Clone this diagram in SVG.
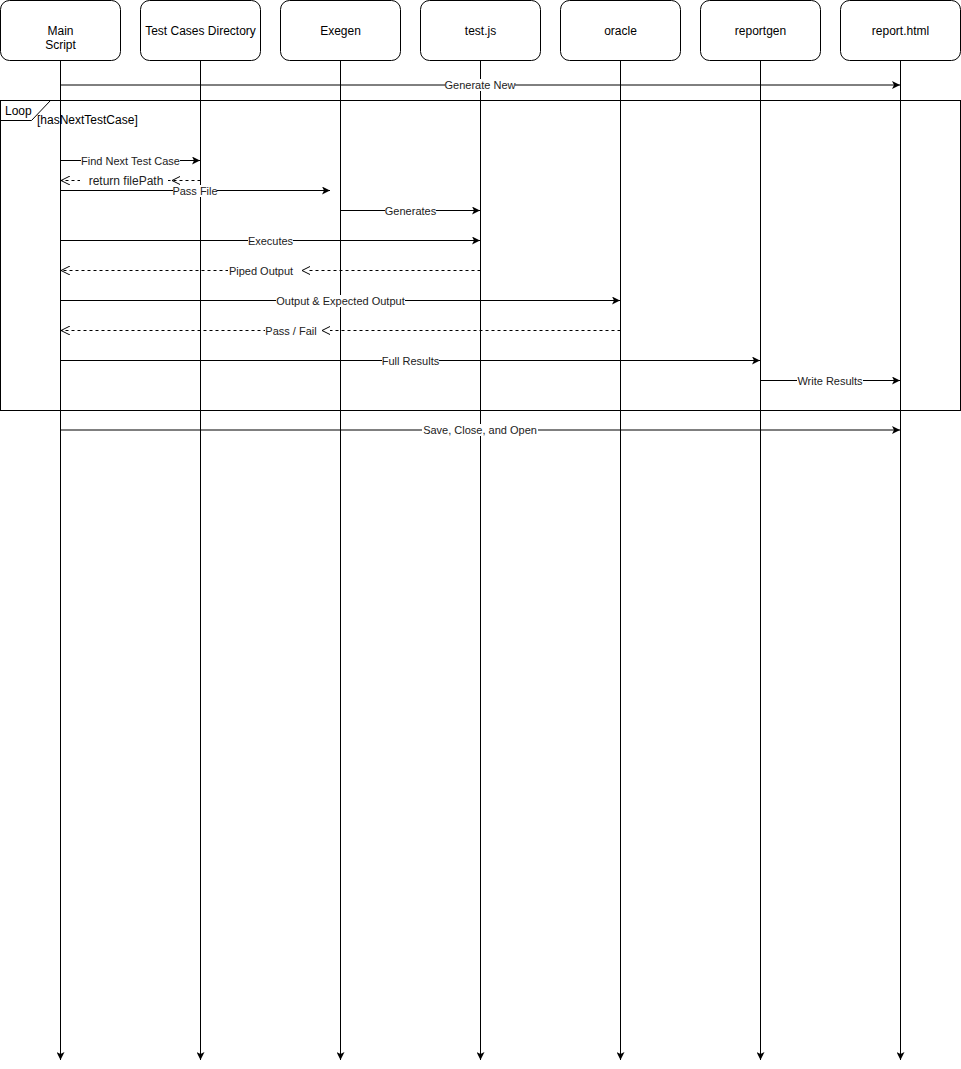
<svg xmlns="http://www.w3.org/2000/svg" width="961" height="1069" viewBox="0 0 961 1069">
<defs>
<marker id="fill" viewBox="0 0 10 10" refX="10" refY="5" markerWidth="8" markerHeight="8" markerUnits="userSpaceOnUse" orient="auto">
<path d="M0,0 L10,5 L0,10 L2.5,5 z" fill="#000"/>
</marker>
<marker id="open" viewBox="0 0 10 10" refX="10" refY="5" markerWidth="9" markerHeight="9" markerUnits="userSpaceOnUse" orient="auto">
<path d="M0,0 L10,5 L0,10" fill="none" stroke="#000" stroke-width="1.1"/>
</marker>
</defs>
<style>
.box{fill:#fff;stroke:#000;stroke-width:1}
.nt{font-family:"Liberation Sans",Arial,sans-serif;font-size:12px;fill:#000;text-anchor:middle}
.life{stroke:#000;stroke-width:1;fill:none;marker-end:url(#fill)}
.msg{stroke:#000;stroke-width:1;fill:none;marker-end:url(#fill)}
.ret{stroke:#000;stroke-width:1;fill:none;stroke-dasharray:3 3;marker-end:url(#open)}
.lbl{font-family:"Liberation Sans",Arial,sans-serif;font-size:11px;fill:#222;text-anchor:middle}
.bg{fill:#fff}
.chev{fill:none;stroke:#000;stroke-width:1}
.frame{fill:none;stroke:#000;stroke-width:1}
.ft{font-family:"Liberation Sans",Arial,sans-serif;font-size:12px;fill:#000}
</style>
<rect width="961" height="1069" fill="#fff"/>

<g id="lifelines">
<line class="life" x1="60.5" y1="60" x2="60.5" y2="1060"/>
<line class="life" x1="200.5" y1="60" x2="200.5" y2="1060"/>
<line class="life" x1="340.5" y1="60" x2="340.5" y2="1060"/>
<line class="life" x1="480.5" y1="60" x2="480.5" y2="1060"/>
<line class="life" x1="620.5" y1="60" x2="620.5" y2="1060"/>
<line class="life" x1="760.5" y1="60" x2="760.5" y2="1060"/>
<line class="life" x1="900.5" y1="60" x2="900.5" y2="1060"/>
</g>

<g id="node-main"><rect class="box" x="0.5" y="0.5" width="120" height="60" rx="9"/><text class="nt" x="60.5" y="35">Main</text><text class="nt" x="60.5" y="49">Script</text></g>
<g id="node-testcases"><rect class="box" x="140.5" y="0.5" width="120" height="60" rx="9"/><text class="nt" x="200.5" y="35">Test Cases Directory</text></g>
<g id="node-exegen"><rect class="box" x="280.5" y="0.5" width="120" height="60" rx="9"/><text class="nt" x="340.5" y="35">Exegen</text></g>
<g id="node-testjs"><rect class="box" x="420.5" y="0.5" width="120" height="60" rx="9"/><text class="nt" x="480.5" y="35">test.js</text></g>
<g id="node-oracle"><rect class="box" x="560.5" y="0.5" width="120" height="60" rx="9"/><text class="nt" x="620.5" y="35">oracle</text></g>
<g id="node-reportgen"><rect class="box" x="700.5" y="0.5" width="120" height="60" rx="9"/><text class="nt" x="760.5" y="35">reportgen</text></g>
<g id="node-report"><rect class="box" x="840.5" y="0.5" width="120" height="60" rx="9"/><text class="nt" x="900.5" y="35">report.html</text></g>

<g id="loop-frame">
<rect class="frame" x="0.5" y="100.5" width="960" height="310"/>
<path class="frame" d="M0.5,120.5 L31.5,120.5 L50.5,100.5"/>
<text class="ft" x="5" y="115">Loop</text>
<text class="ft" x="37" y="124">[hasNextTestCase]</text>
</g>

<g id="connectors">
<line class="msg" x1="60.5" y1="85" x2="900" y2="85"/>
<rect class="bg" x="445" y="79" width="70" height="12"/>
<text class="lbl" x="480" y="89">Generate New</text>

<line class="msg" x1="60.5" y1="160.5" x2="200" y2="160.5"/>
<rect class="bg" x="81" y="154" width="99" height="12"/>
<text class="lbl" x="130.5" y="164.5">Find Next Test Case</text>

<line class="ret" x1="200.5" y1="180.5" x2="61" y2="180.5"/>
<rect class="bg" x="80" y="173" width="88" height="14"/>
<text class="lbl" x="126" y="185" style="font-size:12px">return filePath</text>
<path class="chev" d="M180,176.5 L172,180.5 L180,184.5"/>

<line class="msg" x1="60.5" y1="190.5" x2="330" y2="190.5"/>
<rect class="bg" x="173" y="185" width="44" height="12"/>
<text class="lbl" x="195" y="194.5">Pass File</text>

<line class="msg" x1="340.5" y1="210.5" x2="480" y2="210.5"/>
<rect class="bg" x="385" y="205" width="51" height="12"/>
<text class="lbl" x="410.5" y="214.5">Generates</text>

<line class="msg" x1="60.5" y1="240.5" x2="480" y2="240.5"/>
<rect class="bg" x="248" y="235" width="45" height="12"/>
<text class="lbl" x="270.5" y="244.5">Executes</text>

<line class="ret" x1="480.5" y1="270.5" x2="61" y2="270.5"/>
<rect class="bg" x="228" y="264" width="79" height="13"/>
<text class="lbl" x="261" y="274.5">Piped Output</text>
<path class="chev" d="M310,266.5 L302,270.5 L310,274.5"/>

<line class="msg" x1="60.5" y1="300.5" x2="620" y2="300.5"/>
<rect class="bg" x="276" y="295" width="129" height="12"/>
<text class="lbl" x="340.5" y="304.5">Output &amp; Expected Output</text>

<line class="ret" x1="620.5" y1="330.5" x2="61" y2="330.5"/>
<rect class="bg" x="265" y="324" width="65" height="13"/>
<text class="lbl" x="291" y="334.5">Pass / Fail</text>
<path class="chev" d="M330,326.5 L322,330.5 L330,334.5"/>

<line class="msg" x1="60.5" y1="360.5" x2="760" y2="360.5"/>
<rect class="bg" x="382" y="355" width="57" height="12"/>
<text class="lbl" x="410.5" y="364.5">Full Results</text>

<line class="msg" x1="760.5" y1="380.5" x2="900" y2="380.5"/>
<rect class="bg" x="797" y="375" width="66" height="12"/>
<text class="lbl" x="830" y="384.5">Write Results</text>

<line class="msg" x1="60.5" y1="430" x2="900" y2="430"/>
<rect class="bg" x="422" y="424" width="116" height="12"/>
<text class="lbl" x="480" y="434">Save, Close, and Open</text>
</g>
</svg>
